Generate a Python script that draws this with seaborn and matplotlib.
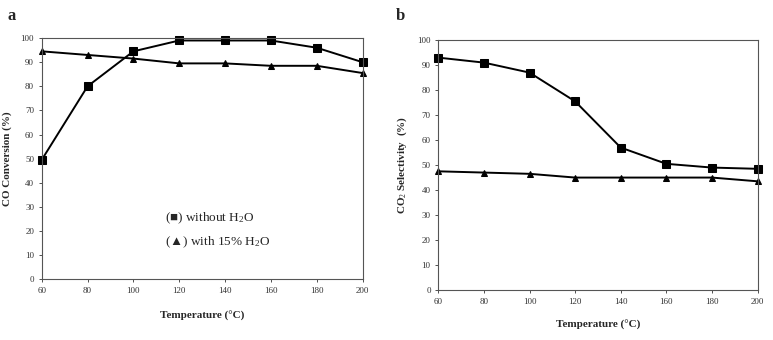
import numpy as np
import pandas as pd
import matplotlib
matplotlib.use("Agg")
import matplotlib.pyplot as plt
import seaborn as sns

# datos
temperatura = [60, 80, 100, 120, 140, 160, 180, 200]
conv_sin_agua = [49.5, 80, 94.5, 99, 99, 99, 96, 90]
conv_con_agua = [94.5, 93, 91.5, 89.5, 89.5, 88.5, 88.5, 85.5]
sel_sin_agua = [93, 91, 87, 75.5, 57, 50.5, 49, 48.5]
sel_con_agua = [47.5, 47, 46.5, 45, 45, 45, 45, 43.5]
yticks = list(range(0, 101, 10))
xticks = [60, 80, 100, 120, 140, 160, 180, 200]

sns.set_style("white")
plt.rcParams['font.family'] = ['Liberation Serif', 'DejaVu Sans']
plt.rcParams['mathtext.fontset'] = 'custom'
plt.rcParams['mathtext.rm'] = 'Liberation Serif'
plt.rcParams['mathtext.it'] = 'Liberation Serif:italic'
plt.rcParams['mathtext.bf'] = 'Liberation Serif:bold'

df_a = pd.DataFrame({
    "T": temperatura * 2,
    "valor": conv_sin_agua + conv_con_agua,
    "serie": ["sin"] * 8 + ["con"] * 8,
})
df_b = pd.DataFrame({
    "T": temperatura * 2,
    "valor": sel_sin_agua + sel_con_agua,
    "serie": ["sin"] * 8 + ["con"] * 8,
})

fig = plt.figure(figsize=(7.73, 3.4), dpi=100)
ax1 = fig.add_axes([0.054, 0.179, 0.415, 0.709])
ax2 = fig.add_axes([0.567, 0.147, 0.413, 0.735])

for ax, df in [(ax1, df_a), (ax2, df_b)]:
    # sin agua: cuadrados; con agua: triangulos mas chicos
    sns.lineplot(data=df[df["serie"] == "sin"], x="T", y="valor", marker="s",
                 color="black", linewidth=1.4, ax=ax, markersize=5.5,
                 markeredgecolor="black", clip_on=False)
    sns.lineplot(data=df[df["serie"] == "con"], x="T", y="valor", marker="^",
                 color="black", linewidth=1.4, ax=ax, markersize=4.5,
                 markeredgecolor="black", clip_on=False)
    ax.set_xlim(60, 200)
    ax.set_ylim(0, 100)
    ax.set_xticks(xticks)
    ax.set_yticks(yticks)
    ax.tick_params(axis="both", labelsize=6.5, length=2, width=0.6, direction="out",
                   bottom=True, left=True, colors="#333333")
    for s in ax.spines.values():
        s.set_color("#555555")
        s.set_linewidth(0.8)

ax1.set_xlabel("Temperature (°C)", fontsize=8, fontweight="bold", labelpad=12)
ax1.set_ylabel("CO Conversion (%)", fontsize=8, fontweight="bold", labelpad=6)
ax2.set_xlabel("Temperature (°C)", fontsize=8, fontweight="bold", labelpad=10)
ax2.set_ylabel(r"CO$_2$ Selectivity  (%)", fontsize=8, fontweight="bold", labelpad=6)

# leyenda como texto
ax1.text(0.385, 0.24, "(■) without H$_2$O", transform=ax1.transAxes, fontsize=9.5)
ax1.text(0.385, 0.14, "(▲) with 15% H$_2$O", transform=ax1.transAxes, fontsize=9.5)

fig.text(0.010, 0.94, "a", fontsize=12, fontweight="bold")
fig.text(0.512, 0.94, "b", fontsize=12, fontweight="bold")

fig.savefig("out.png", dpi=100)
